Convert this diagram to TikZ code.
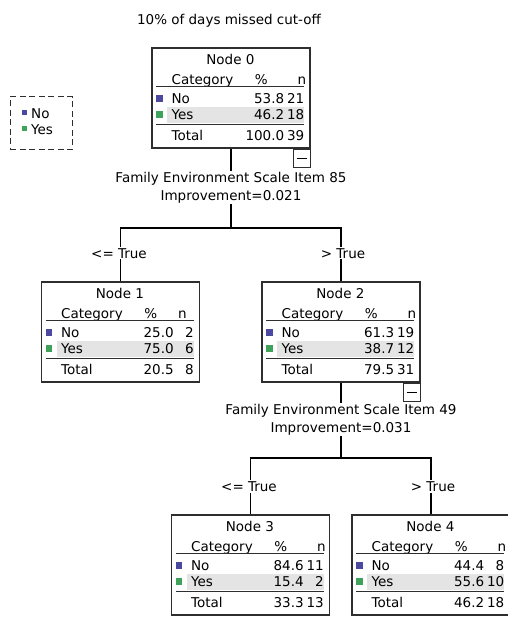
\documentclass[tikz,border=0pt]{standalone}
\usepackage{fontspec}
\setmainfont{DejaVu Sans}
\definecolor{nocol}{HTML}{4B48A0}
\definecolor{yescol}{HTML}{3FA25A}
\definecolor{rowgrey}{HTML}{E4E4E4}
\definecolor{boxline}{HTML}{2E2E2E}
\newcommand\cartfont{\fontsize{13.5}{18}\selectfont}
\tikzset{
  treebox/.style={draw=boxline, line width=1.2pt, minimum width=158pt, minimum height=100pt, inner sep=0pt},
  txt/.style={font=\cartfont, inner sep=1pt},
  rulel/.style={draw=boxline, line width=1pt},
  conn/.style={draw=black, line width=1.2pt},
  togglebox/.style={draw=boxline, line width=1pt, minimum width=17pt, minimum height=18pt, inner sep=0pt},
}
\newcommand\cartcontent[9]{%
  \begin{scope}[shift={(#1.north west)}]
    \fill[rowgrey] (16,60) rectangle (153,76);
    \node[txt,anchor=base] (#1-title) at (79,17.5) {#2};
    \node[txt,anchor=base west] (#1-hc) at (19,37) {Category};
    \node[txt,anchor=base] (#1-hp) at (110,37) {\%};
    \node[txt,anchor=base east] (#1-hn) at (#9,37) {n};
    \draw[rulel] (5,39.5) -- (153,39.5);
    \fill[nocol] (5,48) rectangle (11.5,54.5);
    \node[txt,anchor=base west] (#1-no) at (19,56) {No};
    \node[txt,anchor=base east] (#1-nop) at (134,56) {#3};
    \node[txt,anchor=base east] (#1-non) at (154,56) {#4};
    \fill[yescol] (5,64) rectangle (11.5,70.5);
    \node[txt,anchor=base west] (#1-yes) at (19,72.5) {Yes};
    \node[txt,anchor=base east] (#1-yesp) at (134,72.5) {#5};
    \node[txt,anchor=base east] (#1-yesn) at (154,72.5) {#6};
    \draw[rulel] (5,77) -- (153,77);
    \node[txt,anchor=base west] (#1-tot) at (19,93.5) {Total};
    \node[txt,anchor=base east] (#1-totp) at (134,93.5) {#7};
    \node[txt,anchor=base east] (#1-totn) at (154,93.5) {#8};
  \end{scope}}
\begin{document}
\begin{tikzpicture}[x=1pt,y=-1pt]
  \useasboundingbox[fill=white] (0,0) rectangle (508,618);

  % title
  \node[txt,anchor=base] (title) at (229,25) {10\% of days missed cut-off};

  % legend
  \node[draw=boxline, dash pattern=on 6pt off 3.5pt, line width=1pt, minimum width=62pt, minimum height=53pt, inner sep=0pt] (legend) at (41,123) {};
  \fill[nocol] (legend.north west) ++(12,14) rectangle ++(5,5);
  \fill[yescol] (legend.north west) ++(12,30) rectangle ++(5,5);
  \node[txt,anchor=base west] (leg-no) at (30,118) {No};
  \node[txt,anchor=base west] (leg-yes) at (30,134.5) {Yes};

  % boxes
  \node[treebox] (n0) at (231,98) {};
  \node[treebox] (n1) at (120.5,332) {};
  \node[treebox] (n2) at (341,332) {};
  \node[treebox] (n3) at (250.5,565) {};
  \node[treebox] (n4) at (431,565) {};

  \cartcontent{n0}{Node 0}{53.8}{21}{46.2}{18}{100.0}{39}{156}
  \cartcontent{n1}{Node 1}{25.0}{2}{75.0}{6}{20.5}{8}{147}
  \cartcontent{n2}{Node 2}{61.3}{19}{38.7}{12}{79.5}{31}{156}
  \cartcontent{n3}{Node 3}{84.6}{11}{15.4}{2}{33.3}{13}{156}
  \cartcontent{n4}{Node 4}{44.4}{8}{55.6}{10}{46.2}{18}{156}

  % collapse toggles
  \node[togglebox, anchor=north east] (t0) at (n0.south east) {};
  \draw[line width=1pt] ([xshift=-5pt]t0.center) -- ([xshift=5pt]t0.center);
  \node[togglebox, anchor=north east] (t2) at (n2.south east) {};
  \draw[line width=1pt] ([xshift=-5pt]t2.center) -- ([xshift=5pt]t2.center);

  % split labels
  \node[txt,anchor=base] (s0) at (231,182) {Family Environment Scale Item 85};
  \node[txt,anchor=base] (s0b) at (231,200) {Improvement=0.021};
  \node[txt,anchor=base] (s2) at (341,414.5) {Family Environment Scale Item 49};
  \node[txt,anchor=base] (s2b) at (341,432) {Improvement=0.031};

  % edge labels
  \node[txt,anchor=base] (e1) at (119,258) {<= True};
  \node[txt,anchor=base] (e2) at (343,258) {> True};
  \node[txt,anchor=base] (e3) at (249,491.5) {<= True};
  \node[txt,anchor=base] (e4) at (433,491.5) {> True};

  \coordinate (j0) at (231,228);
  \coordinate (j2) at (341,458);

  % connectors
  \draw[conn] (n0.south) -- (s0.north);
  \draw[conn] (s0b.south) -- (j0);
  \draw[conn] (n1.north |- e1.north) |- (j0) -| (n2.north |- e2.north);
  \draw[conn] (n1.north |- e1.south) -- (n1.north);
  \draw[conn] (n2.north |- e2.south) -- (n2.north);

  \draw[conn] (n2.south) -- (s2.north);
  \draw[conn] (s2b.south) -- (j2);
  \draw[conn] (n3.north |- e3.north) |- (j2) -| (n4.north |- e4.north);
  \draw[conn] (n3.north |- e3.south) -- (n3.north);
  \draw[conn] (n4.north |- e4.south) -- (n4.north);
\end{tikzpicture}
\end{document}
